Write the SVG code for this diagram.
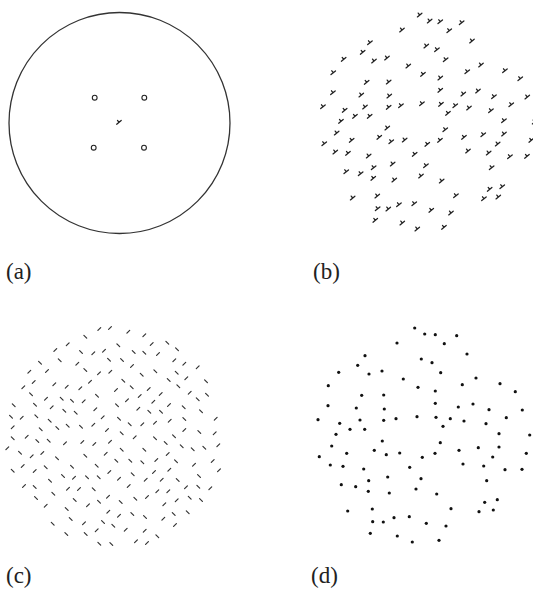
<svg xmlns="http://www.w3.org/2000/svg" xmlns:xlink="http://www.w3.org/1999/xlink" width="533" height="592" viewBox="0 0 533 592">
<style>
.lbl{font-family:"Liberation Serif","Times New Roman",serif;font-size:23px;fill:#222}
.sg{stroke:#333;stroke-width:1.2;stroke-linecap:round}
.ds{fill:none;stroke:#222;stroke-width:1.3;stroke-linecap:round}
.dt{fill:#111}
</style>
<defs>
<line id="f" class="sg" x1="-1.4" y1="1.4" x2="1.4" y2="-1.4"/>
<line id="b" class="sg" x1="-1.4" y1="-1.4" x2="1.4" y2="1.4"/>
<path id="y" class="ds" d="M-2.3,1.9 L2.2,-1.8 M0,0 L-1.5,-1.9"/>
<circle id="d" class="dt" r="1.6"/>
</defs>
<rect width="533" height="592" fill="#fff"/>
<g id="panel-a">
<circle cx="119.5" cy="123" r="110.5" fill="none" stroke="#333" stroke-width="1.3"/>
<g fill="none" stroke="#222" stroke-width="1.1">
<circle cx="94.7" cy="97.7" r="2.4"/><circle cx="144.3" cy="97.7" r="2.4"/>
<circle cx="93.7" cy="147.7" r="2.4"/><circle cx="144" cy="147.7" r="2.4"/>
</g>
<use href="#y" x="119" y="122.3"/>
</g>
<g id="panel-b" transform="translate(5,-313)">
<use href="#y" x="414.7" y="328"/><use href="#y" x="424.7" y="334"/><use href="#y" x="435.3" y="334.7"/><use href="#y" x="456.7" y="335.7"/><use href="#y" x="397" y="343"/><use href="#y" x="444.3" y="343.7"/><use href="#y" x="467" y="354"/><use href="#y" x="365" y="355.7"/><use href="#y" x="421.3" y="359"/><use href="#y" x="432" y="362.7"/><use href="#y" x="357.7" y="365.3"/><use href="#y" x="338.7" y="372.3"/><use href="#y" x="382" y="371"/><use href="#y" x="369" y="374"/><use href="#y" x="440.7" y="372.7"/><use href="#y" x="403.3" y="379"/><use href="#y" x="476" y="378"/><use href="#y" x="328.3" y="385.7"/><use href="#y" x="418" y="387.3"/><use href="#y" x="462.3" y="384.7"/><use href="#y" x="500" y="383.7"/><use href="#y" x="435.3" y="391"/><use href="#y" x="515.3" y="391.7"/><use href="#y" x="361.7" y="395.3"/><use href="#y" x="383.7" y="395"/><use href="#y" x="435.3" y="403.3"/><use href="#y" x="473" y="404"/><use href="#y" x="458.3" y="407"/><use href="#y" x="328" y="405.7"/><use href="#y" x="356.3" y="408"/><use href="#y" x="384.3" y="409"/><use href="#y" x="489" y="409.7"/><use href="#y" x="522.3" y="410"/><use href="#y" x="318" y="419.7"/><use href="#y" x="339.7" y="423.3"/><use href="#y" x="360" y="420"/><use href="#y" x="383.7" y="420.3"/><use href="#y" x="396" y="418.7"/><use href="#y" x="417" y="416.7"/><use href="#y" x="436" y="417.3"/><use href="#y" x="450.3" y="418.7"/><use href="#y" x="464" y="421"/><use href="#y" x="486" y="423.7"/><use href="#y" x="506.3" y="417.7"/><use href="#y" x="350" y="429.3"/><use href="#y" x="364.7" y="429.3"/><use href="#y" x="443" y="426.3"/><use href="#y" x="336" y="434.3"/><use href="#y" x="499" y="433.7"/><use href="#y" x="529.7" y="435"/><use href="#y" x="382.3" y="441"/><use href="#y" x="440.3" y="442.7"/><use href="#y" x="331.7" y="446"/><use href="#y" x="374.3" y="450.3"/><use href="#y" x="346.7" y="453.3"/><use href="#y" x="386.3" y="454.7"/><use href="#y" x="399.7" y="453"/><use href="#y" x="435" y="453.3"/><use href="#y" x="459" y="450.3"/><use href="#y" x="478.3" y="447.7"/><use href="#y" x="499" y="447"/><use href="#y" x="526.3" y="453.3"/><use href="#y" x="319.3" y="456.7"/><use href="#y" x="422.3" y="457.3"/><use href="#y" x="492.7" y="457"/><use href="#y" x="330.3" y="465"/><use href="#y" x="343" y="466.3"/><use href="#y" x="363.7" y="469"/><use href="#y" x="409.7" y="467.3"/><use href="#y" x="463" y="464"/><use href="#y" x="483.7" y="466"/><use href="#y" x="505" y="469.7"/><use href="#y" x="522" y="469.3"/><use href="#y" x="387.7" y="477"/><use href="#y" x="368.7" y="480.7"/><use href="#y" x="421" y="478.7"/><use href="#y" x="486.7" y="480.7"/><use href="#y" x="341.3" y="484.7"/><use href="#y" x="355.7" y="486.7"/><use href="#y" x="368.3" y="491.3"/><use href="#y" x="389.3" y="493"/><use href="#y" x="416" y="489"/><use href="#y" x="436.7" y="494"/><use href="#y" x="484.7" y="502.3"/><use href="#y" x="497.3" y="499.7"/><use href="#y" x="347.7" y="511"/><use href="#y" x="372.3" y="509"/><use href="#y" x="451" y="508.7"/><use href="#y" x="479" y="511.7"/><use href="#y" x="493.3" y="510"/><use href="#y" x="372.7" y="521.7"/><use href="#y" x="383.3" y="522"/><use href="#y" x="394" y="517.7"/><use href="#y" x="409.3" y="516.7"/><use href="#y" x="426.3" y="523.3"/><use href="#y" x="446" y="526"/><use href="#y" x="370.3" y="533.3"/><use href="#y" x="397.3" y="536"/><use href="#y" x="412.3" y="542"/><use href="#y" x="439" y="540.3"/>
</g>
<g id="panel-c">
<use href="#f" x="99.3" y="329"/><use href="#f" x="110" y="328"/><use href="#b" x="85.3" y="336.7"/><use href="#f" x="67.7" y="344.3"/><use href="#f" x="55.3" y="350"/><use href="#b" x="81" y="352"/><use href="#f" x="93.3" y="353.3"/><use href="#f" x="104" y="350.7"/><use href="#b" x="40" y="362.7"/><use href="#b" x="59.7" y="360.3"/><use href="#f" x="77.3" y="363.7"/><use href="#b" x="109" y="359.7"/><use href="#f" x="29.3" y="371.7"/><use href="#f" x="47" y="371"/><use href="#b" x="85.3" y="370"/><use href="#f" x="99" y="373.3"/><use href="#f" x="110.3" y="371.7"/><use href="#f" x="33.7" y="382"/><use href="#f" x="90" y="381.7"/><use href="#f" x="23.3" y="387.3"/><use href="#f" x="54.3" y="384.3"/><use href="#f" x="66.7" y="386.7"/><use href="#f" x="80.3" y="388.3"/><use href="#b" x="31" y="394.3"/><use href="#b" x="97" y="395.7"/><use href="#f" x="46" y="398.7"/><use href="#b" x="61.7" y="398.7"/><use href="#b" x="72" y="400.7"/><use href="#f" x="83.7" y="401.3"/><use href="#b" x="13.7" y="405.3"/><use href="#b" x="35" y="404.7"/><use href="#f" x="51.7" y="407.3"/><use href="#b" x="64.3" y="410.7"/><use href="#b" x="75.7" y="412.7"/><use href="#f" x="95.3" y="409.3"/><use href="#b" x="11" y="416.7"/><use href="#f" x="21.7" y="417.7"/><use href="#b" x="36.3" y="416.3"/><use href="#f" x="102.7" y="417.3"/><use href="#b" x="49.7" y="420.7"/><use href="#b" x="67.7" y="425.7"/><use href="#b" x="81" y="426.7"/><use href="#f" x="93.3" y="424.7"/><use href="#f" x="12.7" y="427.3"/><use href="#b" x="40.7" y="429.3"/><use href="#b" x="57.3" y="428"/><use href="#f" x="107" y="430"/>
<use href="#f" x="128.3" y="331.7"/><use href="#f" x="144.3" y="335.3"/><use href="#b" x="118.3" y="345.3"/><use href="#f" x="151.7" y="344"/><use href="#b" x="167.3" y="342.7"/><use href="#b" x="177" y="349.3"/><use href="#b" x="133.7" y="352"/><use href="#b" x="144.3" y="352.7"/><use href="#f" x="158" y="354"/><use href="#b" x="122" y="360"/><use href="#f" x="174.3" y="360.3"/><use href="#f" x="184.3" y="363.7"/><use href="#f" x="197.7" y="367.3"/><use href="#f" x="132" y="366"/><use href="#b" x="141.7" y="374.7"/><use href="#b" x="155.3" y="371.3"/><use href="#b" x="176.7" y="372.7"/><use href="#b" x="123.3" y="380.7"/><use href="#b" x="168.7" y="380"/><use href="#f" x="186.3" y="378.3"/><use href="#b" x="206" y="381.3"/><use href="#b" x="131.7" y="387.3"/><use href="#f" x="148.7" y="389"/><use href="#b" x="178.3" y="386.3"/><use href="#f" x="116" y="390"/><use href="#f" x="160.7" y="394"/><use href="#f" x="189.7" y="392.7"/><use href="#b" x="207" y="394.7"/><use href="#f" x="127" y="400.3"/><use href="#f" x="139.7" y="396"/><use href="#f" x="153.3" y="401.7"/><use href="#b" x="197.7" y="399.3"/><use href="#b" x="117" y="405.3"/><use href="#f" x="138.3" y="408.7"/><use href="#b" x="149.3" y="411.7"/><use href="#b" x="161" y="411.7"/><use href="#f" x="169" y="405"/><use href="#b" x="183.7" y="407.3"/><use href="#b" x="201" y="411.3"/><use href="#b" x="119" y="418.7"/><use href="#b" x="129.7" y="424.3"/><use href="#f" x="142.3" y="424.3"/><use href="#f" x="155" y="422.7"/><use href="#f" x="169.7" y="420.7"/><use href="#b" x="184.3" y="419"/><use href="#f" x="215.7" y="418.7"/><use href="#b" x="121.7" y="433.3"/><use href="#f" x="184.3" y="430"/><use href="#b" x="199.3" y="432"/><use href="#f" x="214.7" y="433.3"/>
<use href="#b" x="12.7" y="438.3"/><use href="#f" x="26.7" y="436.7"/><use href="#b" x="37.3" y="441"/><use href="#b" x="48.7" y="440.7"/><use href="#f" x="65" y="443.3"/><use href="#f" x="82.3" y="442"/><use href="#f" x="94.3" y="444"/><use href="#f" x="110" y="441.7"/><use href="#f" x="7.3" y="448.3"/><use href="#b" x="20" y="452.7"/><use href="#f" x="31.7" y="456.3"/><use href="#f" x="42.3" y="453"/><use href="#b" x="57" y="458.3"/><use href="#b" x="85.3" y="455.7"/><use href="#f" x="105.7" y="453.7"/><use href="#f" x="22.7" y="466"/><use href="#f" x="34.7" y="471"/><use href="#b" x="45.7" y="467.3"/><use href="#b" x="72" y="466.7"/><use href="#b" x="96.7" y="465.7"/><use href="#b" x="12.7" y="470.7"/><use href="#b" x="63" y="476"/><use href="#f" x="74" y="477.7"/><use href="#b" x="87" y="477.3"/><use href="#b" x="98.7" y="477.3"/><use href="#f" x="109.3" y="472"/><use href="#b" x="50" y="480.7"/><use href="#f" x="24" y="486"/><use href="#b" x="34.7" y="487"/><use href="#f" x="68" y="488.7"/><use href="#f" x="79" y="489"/><use href="#b" x="93.7" y="489.3"/><use href="#b" x="53.3" y="493.7"/><use href="#b" x="36" y="498"/><use href="#b" x="74.7" y="500"/><use href="#b" x="99" y="501.7"/><use href="#f" x="108" y="496.7"/><use href="#f" x="45.7" y="505.7"/><use href="#f" x="88" y="505.3"/><use href="#b" x="66.7" y="509"/><use href="#f" x="108.3" y="511.7"/><use href="#b" x="70.7" y="519"/><use href="#f" x="84" y="523.3"/><use href="#b" x="103" y="522"/><use href="#b" x="52.7" y="523.7"/><use href="#f" x="96.7" y="530.3"/><use href="#b" x="113.3" y="525.7"/><use href="#b" x="66.3" y="534"/><use href="#b" x="85.7" y="534"/><use href="#b" x="99.3" y="543.7"/><use href="#b" x="111.3" y="544"/>
<use href="#f" x="134.7" y="437.3"/><use href="#b" x="155" y="438.3"/><use href="#b" x="165.7" y="443"/><use href="#b" x="174" y="436.3"/><use href="#b" x="121.7" y="449.7"/><use href="#b" x="144.3" y="449.7"/><use href="#f" x="167.7" y="454"/><use href="#b" x="181.7" y="446.3"/><use href="#b" x="192.7" y="449.3"/><use href="#b" x="204.3" y="447.7"/><use href="#f" x="218.3" y="445.3"/><use href="#b" x="116.3" y="460.7"/><use href="#b" x="130.3" y="460.7"/><use href="#b" x="142.3" y="462.3"/><use href="#f" x="156.3" y="460"/><use href="#b" x="176" y="461.3"/><use href="#f" x="194" y="464.7"/><use href="#f" x="212.7" y="461"/><use href="#b" x="132.7" y="474.3"/><use href="#f" x="154" y="472"/><use href="#f" x="169.3" y="469.7"/><use href="#b" x="199" y="476"/><use href="#f" x="219" y="470.3"/><use href="#f" x="119" y="478.7"/><use href="#f" x="145.7" y="479.7"/><use href="#f" x="161.7" y="479.7"/><use href="#b" x="177.7" y="480"/><use href="#f" x="128.7" y="486"/><use href="#f" x="157.3" y="491.3"/><use href="#f" x="168.3" y="491.3"/><use href="#f" x="186" y="487.3"/><use href="#b" x="198.3" y="486.7"/><use href="#f" x="210.3" y="488.3"/><use href="#b" x="120.7" y="502"/><use href="#b" x="135.3" y="498.7"/><use href="#f" x="147" y="497"/><use href="#f" x="164.3" y="504.3"/><use href="#f" x="176.7" y="500.3"/><use href="#b" x="189.7" y="497.7"/><use href="#b" x="201" y="500"/><use href="#f" x="119" y="515.7"/><use href="#b" x="132.3" y="514"/><use href="#b" x="145" y="517"/><use href="#f" x="163.3" y="518.7"/><use href="#b" x="173.7" y="514"/><use href="#b" x="187.7" y="512.3"/><use href="#f" x="125.7" y="529.7"/><use href="#f" x="144.7" y="530.7"/><use href="#f" x="175" y="525"/><use href="#b" x="157.3" y="536.3"/><use href="#f" x="136" y="541.3"/><use href="#f" x="147" y="543"/>
</g>
<g id="panel-d">
<use href="#d" x="414.7" y="328"/><use href="#d" x="424.7" y="334"/><use href="#d" x="435.3" y="334.7"/><use href="#d" x="456.7" y="335.7"/><use href="#d" x="397" y="343"/><use href="#d" x="444.3" y="343.7"/><use href="#d" x="467" y="354"/><use href="#d" x="365" y="355.7"/><use href="#d" x="421.3" y="359"/><use href="#d" x="432" y="362.7"/><use href="#d" x="357.7" y="365.3"/><use href="#d" x="338.7" y="372.3"/><use href="#d" x="382" y="371"/><use href="#d" x="369" y="374"/><use href="#d" x="440.7" y="372.7"/><use href="#d" x="403.3" y="379"/><use href="#d" x="476" y="378"/><use href="#d" x="328.3" y="385.7"/><use href="#d" x="418" y="387.3"/><use href="#d" x="462.3" y="384.7"/><use href="#d" x="500" y="383.7"/><use href="#d" x="435.3" y="391"/><use href="#d" x="515.3" y="391.7"/><use href="#d" x="361.7" y="395.3"/><use href="#d" x="383.7" y="395"/><use href="#d" x="435.3" y="403.3"/><use href="#d" x="473" y="404"/><use href="#d" x="458.3" y="407"/><use href="#d" x="328" y="405.7"/><use href="#d" x="356.3" y="408"/><use href="#d" x="384.3" y="409"/><use href="#d" x="489" y="409.7"/><use href="#d" x="522.3" y="410"/><use href="#d" x="318" y="419.7"/><use href="#d" x="339.7" y="423.3"/><use href="#d" x="360" y="420"/><use href="#d" x="383.7" y="420.3"/><use href="#d" x="396" y="418.7"/><use href="#d" x="417" y="416.7"/><use href="#d" x="436" y="417.3"/><use href="#d" x="450.3" y="418.7"/><use href="#d" x="464" y="421"/><use href="#d" x="486" y="423.7"/><use href="#d" x="506.3" y="417.7"/><use href="#d" x="350" y="429.3"/><use href="#d" x="364.7" y="429.3"/><use href="#d" x="443" y="426.3"/><use href="#d" x="336" y="434.3"/><use href="#d" x="499" y="433.7"/><use href="#d" x="529.7" y="435"/><use href="#d" x="382.3" y="441"/><use href="#d" x="440.3" y="442.7"/><use href="#d" x="331.7" y="446"/><use href="#d" x="374.3" y="450.3"/><use href="#d" x="346.7" y="453.3"/><use href="#d" x="386.3" y="454.7"/><use href="#d" x="399.7" y="453"/><use href="#d" x="435" y="453.3"/><use href="#d" x="459" y="450.3"/><use href="#d" x="478.3" y="447.7"/><use href="#d" x="499" y="447"/><use href="#d" x="526.3" y="453.3"/><use href="#d" x="319.3" y="456.7"/><use href="#d" x="422.3" y="457.3"/><use href="#d" x="492.7" y="457"/><use href="#d" x="330.3" y="465"/><use href="#d" x="343" y="466.3"/><use href="#d" x="363.7" y="469"/><use href="#d" x="409.7" y="467.3"/><use href="#d" x="463" y="464"/><use href="#d" x="483.7" y="466"/><use href="#d" x="505" y="469.7"/><use href="#d" x="522" y="469.3"/><use href="#d" x="387.7" y="477"/><use href="#d" x="368.7" y="480.7"/><use href="#d" x="421" y="478.7"/><use href="#d" x="486.7" y="480.7"/><use href="#d" x="341.3" y="484.7"/><use href="#d" x="355.7" y="486.7"/><use href="#d" x="368.3" y="491.3"/><use href="#d" x="389.3" y="493"/><use href="#d" x="416" y="489"/><use href="#d" x="436.7" y="494"/><use href="#d" x="484.7" y="502.3"/><use href="#d" x="497.3" y="499.7"/><use href="#d" x="347.7" y="511"/><use href="#d" x="372.3" y="509"/><use href="#d" x="451" y="508.7"/><use href="#d" x="479" y="511.7"/><use href="#d" x="493.3" y="510"/><use href="#d" x="372.7" y="521.7"/><use href="#d" x="383.3" y="522"/><use href="#d" x="394" y="517.7"/><use href="#d" x="409.3" y="516.7"/><use href="#d" x="426.3" y="523.3"/><use href="#d" x="446" y="526"/><use href="#d" x="370.3" y="533.3"/><use href="#d" x="397.3" y="536"/><use href="#d" x="412.3" y="542"/><use href="#d" x="439" y="540.3"/>
</g>
<g id="labels">
<text class="lbl" x="6" y="279">(a)</text>
<text class="lbl" x="313" y="279">(b)</text>
<text class="lbl" x="6" y="583">(c)</text>
<text class="lbl" x="311" y="583">(d)</text>
</g>
</svg>
